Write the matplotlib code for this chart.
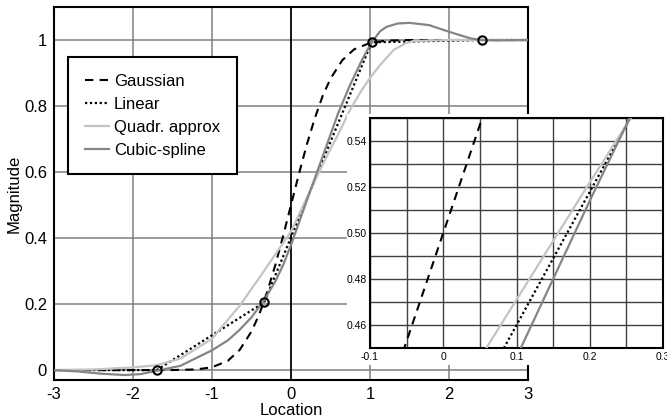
import matplotlib
matplotlib.use("Agg")
import matplotlib.pyplot as plt
from matplotlib.patches import Rectangle
from matplotlib.ticker import MultipleLocator, FixedLocator

plt.rcParams['font.family'] = ['Liberation Sans', 'DejaVu Sans']

# ---- data ----
gauss_x = [-3, -2, -1.5, -1.2, -1.0, -0.8, -0.65, -0.5, -0.4, -0.3, -0.2, -0.1, -0.05, 0.0,
           0.05, 0.1, 0.2, 0.3, 0.4, 0.5, 0.65, 0.8, 1.0, 1.2, 1.5, 2.0, 3.0]
gauss_y = [0.0, 0.0, 0.0002, 0.002, 0.0086, 0.028, 0.061, 0.117, 0.170, 0.238, 0.317, 0.406, 0.453, 0.500,
           0.547, 0.594, 0.683, 0.762, 0.830, 0.883, 0.939, 0.972, 0.991, 0.998, 1.0, 1.0, 1.0]

knots_x = [-1.70, -0.34, 1.02, 2.42]
knots_y = [0.0, 0.205, 0.993, 1.0]

linear_x = [-3.0, -1.70, -0.34, 1.02, 2.42, 3.0]
linear_y = [0.0, 0.0, 0.205, 0.993, 1.0, 1.0]

quad_x = [-3.0, -2.5, -2.0, -1.7, -1.4, -1.0, -0.65, -0.4, -0.2, -0.1, 0.0, 0.1, 0.2, 0.3,
          0.4, 0.5, 0.6, 0.75, 0.9, 1.0, 1.13, 1.3, 1.45, 1.55, 2.0, 3.0]
quad_y = [0.0, 0.002, 0.008, 0.015, 0.035, 0.095, 0.195, 0.280, 0.350, 0.385, 0.420, 0.471, 0.522, 0.572,
          0.622, 0.670, 0.715, 0.790, 0.850, 0.885, 0.925, 0.970, 0.990, 0.997, 1.0, 1.0]

cubic_x = [-3.0, -2.7, -2.4, -2.1, -1.9, -1.7, -1.4, -1.0, -0.8, -0.65, -0.5, -0.34, -0.2, -0.1, 0.0,
           0.1, 0.2, 0.3, 0.45, 0.6, 0.75, 0.9, 1.02, 1.13, 1.21, 1.35, 1.5, 1.75, 2.0, 2.27, 2.42, 2.6, 3.0]
cubic_y = [0.0, -0.004, -0.011, -0.015, -0.012, -0.002, 0.013, 0.060, 0.090, 0.122, 0.160, 0.212, 0.268, 0.318, 0.379,
           0.446, 0.514, 0.580, 0.680, 0.780, 0.865, 0.940, 0.993, 1.027, 1.040, 1.050, 1.052, 1.045, 1.025, 1.005, 1.0, 0.999, 1.0]

series_labels = ["Gaussian", "Linear", "Quadr. approx", "Cubic-spline"]

main_xticks = [-3, -2, -1, 0, 1, 2, 3]
main_yticks = [0, 0.2, 0.4, 0.6, 0.8, 1.0]
main_yticklabels = ["0", "0.2", "0.4", "0.6", "0.8", "1"]
inset_xticks = [-0.1, 0.0, 0.1, 0.2, 0.3]
inset_xticklabels = ["-0.1", "0", "0.1", "0.2", "0.3"]
inset_yticks = [0.46, 0.48, 0.50, 0.52, 0.54]
inset_yticklabels = ["0.46", "0.48", "0.50", "0.52", "0.54"]

# ---- figure ----
W, H = 667, 420
fig = plt.figure(figsize=(W / 100, H / 100), dpi=100)

def frect(x0, y0, x1, y1):
    return [x0 / W, 1 - y1 / H, (x1 - x0) / W, (y1 - y0) / H]

ax = fig.add_axes(frect(54, 7, 528, 380))
ax.set_zorder(0)

styles = [
    dict(color="black", lw=1.5, linestyle=(0, (4, 3))),
    dict(color="black", lw=1.6, linestyle=(0, (1, 1.2))),
    dict(color="#c4c4c4", lw=1.6, linestyle="-"),
    dict(color="#858585", lw=1.6, linestyle="-"),
]
data = [(gauss_x, gauss_y), (linear_x, linear_y), (quad_x, quad_y), (cubic_x, cubic_y)]


def draw_curves(a):
    order = [2, 3, 1, 0]
    hd = {}
    for i in order:
        x, y = data[i]
        h, = a.plot(x, y, label=series_labels[i], zorder=3 + i * 0.1, **styles[i])
        hd[i] = h
    return [hd[i] for i in range(4)]


handles = draw_curves(ax)
ax.plot(knots_x, knots_y, linestyle="none", marker="o", ms=6, mfc="none", mec="black",
        mew=1.5, zorder=5)

ax.set_xlim(-3, 3)
ax.set_ylim(-0.03, 1.1)
ax.set_xticks(main_xticks)
ax.set_xticklabels([str(t) for t in main_xticks])
ax.set_yticks(main_yticks)
ax.set_yticklabels(main_yticklabels)
ax.grid(True, color="#808080", lw=1.1)
ax.set_axisbelow(True)
ax.axvline(0, color="black", lw=1.2, zorder=1.5)
ax.tick_params(direction="in", length=0, labelsize=12, pad=5)
for s in ax.spines.values():
    s.set_linewidth(1.5)
ax.set_xlabel("Location", fontsize=12, labelpad=1)
ax.set_ylabel("Magnitude", fontsize=12, labelpad=2)

leg = ax.legend(handles=handles, loc="upper left",
                bbox_to_anchor=((68 - 54) / 474, (380 - 57) / 373 - 0.01, (237 - 68) / 474, 0.01),
                mode="expand", fontsize=12, frameon=True, fancybox=False,
                edgecolor="black", framealpha=1, borderpad=1.0, labelspacing=0.48,
                handlelength=1.45, handletextpad=0.3, borderaxespad=0)
leg.get_frame().set_linewidth(1.5)

# white backdrop behind inset (covers its tick labels area)
bg = Rectangle((347 / W, 1 - 365 / H), (W - 347) / W, (365 - 114) / H,
               transform=fig.transFigure, facecolor="white", edgecolor="none", zorder=1)
fig.add_artist(bg)

ins = fig.add_axes(frect(370, 118, 663, 348))
ins.set_zorder(2)
draw_curves(ins)
ins.set_xlim(-0.1, 0.3)
ins.set_ylim(0.45, 0.55)
ins.xaxis.set_major_locator(FixedLocator(inset_xticks))
ins.set_xticklabels(inset_xticklabels)
ins.yaxis.set_major_locator(FixedLocator(inset_yticks))
ins.set_yticklabels(inset_yticklabels)
ins.xaxis.set_minor_locator(MultipleLocator(0.05))
ins.yaxis.set_minor_locator(MultipleLocator(0.01))
ins.grid(True, which="both", color="#404040", lw=1.0)
ins.set_axisbelow(True)
ins.tick_params(which="both", length=0, labelsize=7.5, pad=3, colors="black")
ins.tick_params(axis="y", pad=2)
for s in ins.spines.values():
    s.set_linewidth(1.5)

fig.savefig("out.png", dpi=100)
